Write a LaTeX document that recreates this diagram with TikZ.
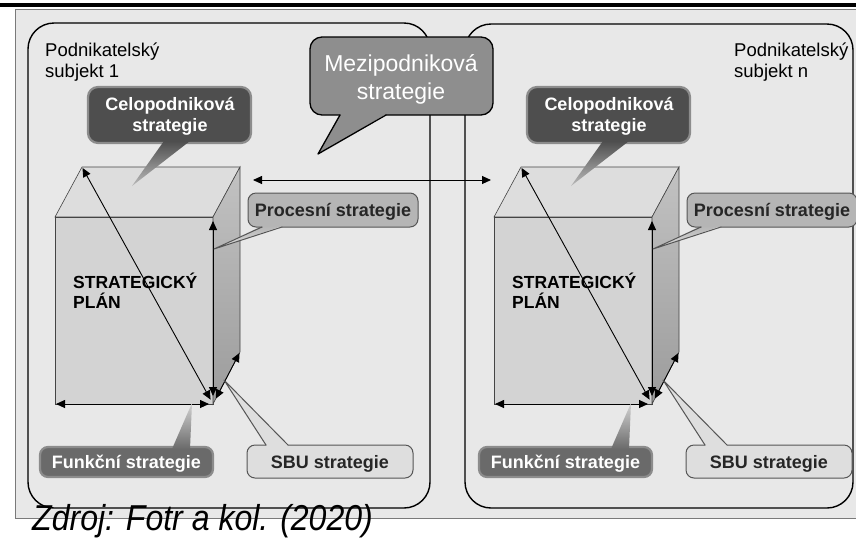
\documentclass[tikz,border=0pt]{standalone}
\usepackage{fontspec}
\setmainfont{Liberation Sans}
\usetikzlibrary{arrows.meta,calc}

\definecolor{paper}{HTML}{E8E8E8}
\definecolor{scanedge}{HTML}{7A7A7A}
\definecolor{darkcall}{HTML}{4E4E4E}
\definecolor{darkhalo}{HTML}{8C8C8C}
\definecolor{funcfill}{HTML}{6A6A6A}
\definecolor{midcall}{HTML}{B5B5B5}
\definecolor{lightcall}{HTML}{DEDEDE}
\definecolor{callrim}{HTML}{555555}
\definecolor{intercall}{HTML}{8E8E8E}
\definecolor{topface}{HTML}{DDDDDD}
\definecolor{frontface}{HTML}{D3D3D3}
\definecolor{sidetop}{HTML}{C2C2C2}
\definecolor{sidebot}{HTML}{9C9C9C}
\definecolor{edgegray}{HTML}{444444}

\tikzset{
  subject/.style={draw=black, line width=1.4pt, rounded corners=26pt},
  link/.style={<->, >={Triangle[length=9pt,width=8pt]}, line width=0.9pt, draw=black},
  faceedge/.style={draw=edgegray, line width=0.6pt},
  rim/.style={draw=callrim, line width=1pt, line cap=round, line join=round},
  plainlabel/.style={inner sep=0pt, font=\fontsize{18.5}{21}\selectfont},
  boldlabel/.style={inner sep=0pt, font=\fontsize{18}{21}\selectfont\bfseries},
}

% one business subject: prism, its arrows and the four strategy callouts
\newcommand\subjectparts{%
  \coordinate (tbl) at (82,167);
  \coordinate (tbr) at (240,167);
  \coordinate (ftl) at (55,217);
  \coordinate (ftr) at (213,217);
  \coordinate (fbl) at (55,404);
  \coordinate (fbr) at (213,404);
  \coordinate (sbr) at (240,352);
  % faces of the prism
  \filldraw[fill=topface, faceedge] (tbl) -- (tbr) -- (ftr) -- (ftl) -- cycle;
  \filldraw[fill=frontface, faceedge] (ftl) rectangle (fbr);
  \shade[top color=sidetop, bottom color=sidebot] (ftr) -- (tbr) -- (sbr) -- (fbr) -- cycle;
  \draw[faceedge] (ftr) -- (tbr) -- (sbr) -- (fbr) -- cycle;
  % links between the levels
  \draw[link, shorten <=1pt, shorten >=5pt] (tbl) -- (fbr);
  \draw[link, shorten <=4pt, shorten >=8pt] (ftr) -- (fbr);
  \draw[link, shorten <=1pt, shorten >=4pt] (fbl) -- (fbr);
  \draw[link, shorten <=1pt, shorten >=6pt] (sbr) -- (fbr);
  % plan label
  \node[boldlabel, anchor=base west, font=\fontsize{17.5}{20}\selectfont\bfseries] (planA) at (73,288) {STRATEGICKÝ};
  \node[boldlabel, anchor=base west, font=\fontsize{17.5}{20}\selectfont\bfseries] (planB) at (73,308) {PLÁN};
  % corporate strategy
  \filldraw[fill=darkcall, draw=darkhalo, line width=2.2pt, rounded corners=10pt] (88,87) rectangle (251,143);
  \shade[top color=darkcall, bottom color=gray!55] (164,141) -- (132,186) -- (190,141) -- cycle;
  \node[boldlabel, text=white, align=center] (corp) at (170,116.5) {Celopodniková\\strategie};
  % process strategy
  \fill[midcall, rounded corners=8pt] (248,193) rectangle (418,227);
  \shade[top color=midcall, bottom color=gray!25] (262,226) -- (214,249) -- (282,226) -- cycle;
  \draw[rim, rounded corners=8pt] (282,227) -- (418,227) -- (418,193) -- (248,193) -- (248,227) -- (262,227);
  \draw[rim] (262,227) -- (214,249) -- (282,227);
  \node[boldlabel, anchor=base, text=black!85] (proc) at (333,216) {Procesní strategie};
  % functional strategy
  \filldraw[fill=funcfill, draw=darkhalo, line width=2.2pt, rounded corners=8pt] (40,447) rectangle (213,477);
  \shade[top color=gray!35, bottom color=funcfill] (172,449) -- (192,403) -- (190,449) -- cycle;
  \node[boldlabel, anchor=base, text=white] (func) at (126.5,468) {Funkční strategie};
  % business unit strategy
  \fill[lightcall, rounded corners=8pt] (247,445) rectangle (413,478);
  \fill[lightcall] (266,446) -- (224,380) -- (288,446) -- cycle;
  \draw[rim, rounded corners=8pt] (266,445) -- (247,445) -- (247,478) -- (413,478) -- (413,445) -- (288,445);
  \draw[rim] (266,445) -- (224,380) -- (288,445);
  \node[boldlabel, anchor=base, text=black!85] (sbu) at (330,468) {SBU strategie};
}

\begin{document}
\begin{tikzpicture}[x=1pt,y=-1pt]
\useasboundingbox (0,0) rectangle (856,539);
\fill[white] (0,0) rectangle (856,539);
% sheet and heading rule
\fill[paper] (15,9) rectangle (856,518);
\draw[scanedge, line width=0.8pt] (856,9) -- (15,9) -- (15,518) -- (856,518);
\fill[black] (0,3) rectangle (856,7);

% the two business subjects
\draw[subject] (28,23) rectangle (430,508);
\draw[subject] (465,24) rectangle (853,508);
\node[plainlabel, anchor=base west] (s1a) at (45,56) {Podnikatelský};
\node[plainlabel, anchor=base west] (s1b) at (45,77) {subjekt 1};
\node[plainlabel, anchor=base west] (sna) at (734,56) {Podnikatelský};
\node[plainlabel, anchor=base west] (snb) at (734,77) {subjekt n};

\begin{scope}[name prefix=l-]
  \subjectparts
\end{scope}
\begin{scope}[xshift=439pt, name prefix=r-]
  \subjectparts
\end{scope}

% link between the subjects
\coordinate (gapL) at (253,180);
\coordinate (gapR) at (491,180);
\draw[link] (gapL) -- (gapR);

% inter-company strategy
\fill[intercall, rounded corners=12pt] (310,37) rectangle (493,115);
\fill[intercall] (340,114) -- (318,154) -- (386,114) -- cycle;
\draw[black, line width=1.3pt, line cap=round, rounded corners=12pt] (386,115) -- (493,115) -- (493,37) -- (310,37) -- (310,115) -- (340,115);
\draw[black, line width=1.3pt, line cap=round, line join=round] (340,115) -- (318,154) -- (386,115);
\node[inner sep=0pt, text=white, align=center, font=\fontsize{23}{28}\selectfont] (inter) at (401,79) {Mezipodniková\\strategie};

% source line
\node[inner sep=0pt, anchor=base west, font=\fontsize{36}{40}\selectfont\itshape] (src) at (32,530) {\scalebox{0.89}[1]{Zdroj: Fotr a kol. (2020)}};
\end{tikzpicture}
\end{document}
